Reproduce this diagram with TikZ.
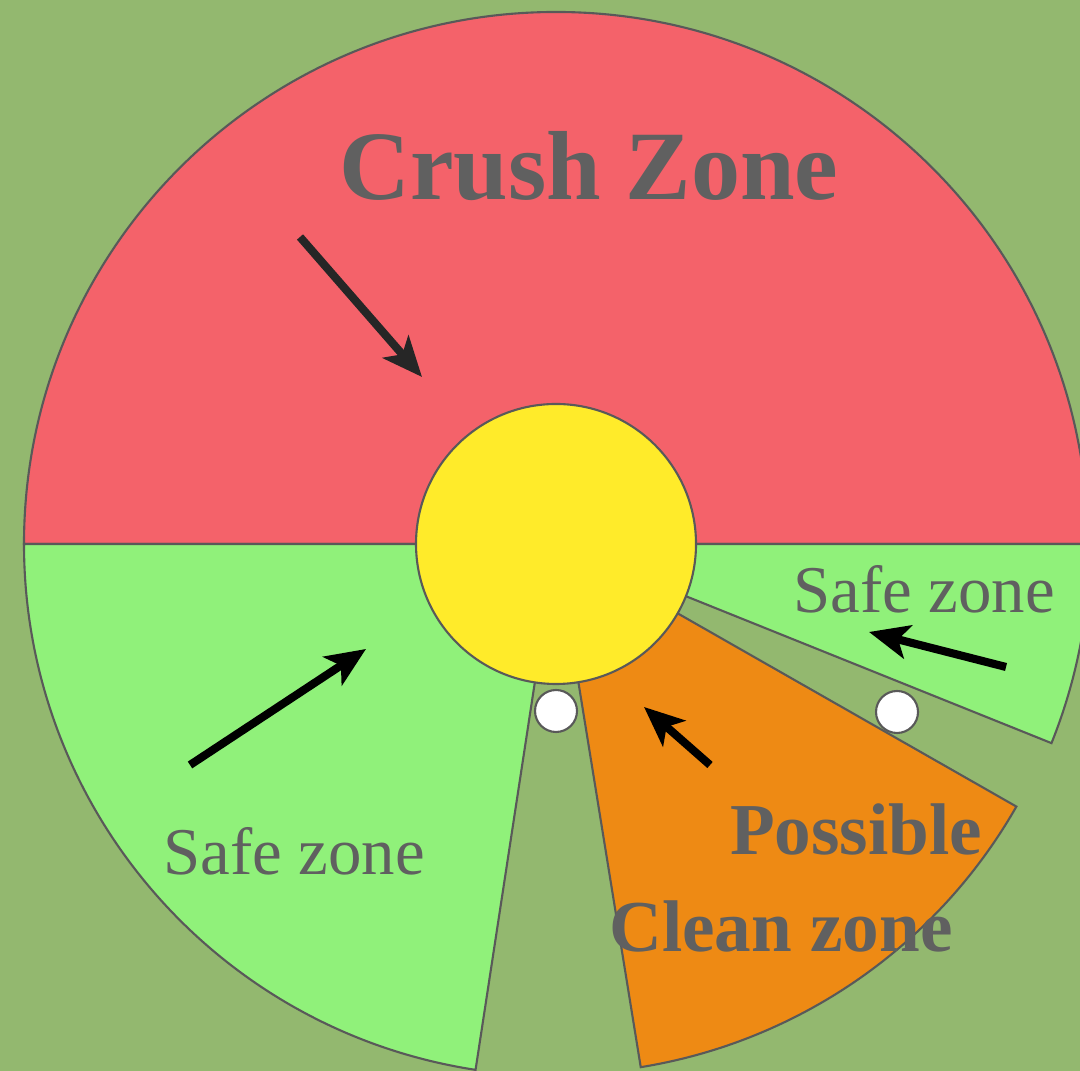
\documentclass[tikz,border=0pt]{standalone}
\usepackage{fontspec}
\setmainfont{Liberation Serif}
\usetikzlibrary{arrows.meta}
\definecolor{fieldgreen}{HTML}{93B86F}
\definecolor{crushred}{HTML}{F4626A}
\definecolor{safegreen}{HTML}{90F17A}
\definecolor{cleanorange}{HTML}{EE8A14}
\definecolor{hubyellow}{HTML}{FFEB2A}
\definecolor{labelgray}{HTML}{606060}

\begin{document}
\begin{tikzpicture}[
  x=0.01cm, y=0.01cm,
  zone/.style={draw=black!65, line width=0.6pt},
  pointer/.style={-{Stealth[length=0.4cm, width=0.34cm, inset=0.1cm]}, line width=2.3pt},
  lbl/.style={text=labelgray, anchor=base, inner sep=0pt}
]
  \fill[fieldgreen] (0,0) rectangle (1080,1071);
  \useasboundingbox (0,0) rectangle (1080,1071);
  \clip (0,0) rectangle (1080,1071);
  \coordinate (c) at (556,527);

  % zones
  \draw[zone, fill=crushred]    (c) -- ++(0:532) arc (0:180:532) -- cycle;
  \draw[zone, fill=safegreen]   (c) -- ++(180:532) arc (180:261.3:532) -- cycle;
  \draw[zone, fill=cleanorange] (c) -- ++(279.2:530) arc (279.2:330.3:530) -- cycle;
  \draw[zone, fill=safegreen]   (c) -- ++(338.1:534) arc (338.1:360:534) -- cycle;
  \draw[zone, fill=hubyellow]   (c) circle (140);
  \draw[zone, fill=white] (556,360) circle (21);
  \draw[zone, fill=white] (897,359) circle (21);

  % arrows
  \coordinate (t1) at (300,834);  \coordinate (h1) at (422,694);
  \coordinate (t2) at (190,306);  \coordinate (h2) at (366,422);
  \coordinate (t3) at (710,306);  \coordinate (h3) at (644,364);
  \coordinate (t4) at (1006,404); \coordinate (h4) at (869,439);
  \draw[pointer, black!85] (t1) -- (h1);
  \draw[pointer] (t2) -- (h2);
  \draw[pointer] (t3) -- (h3);
  \draw[pointer] (t4) -- (h4);

  % labels
  \node[lbl, font=\bfseries\fontsize{27.9}{30}\selectfont] (crush) at (589,871) {Crush Zone};
  \node[lbl, font=\fontsize{19}{21}\selectfont] (safeR) at (924,458) {Safe zone};
  \node[lbl, font=\fontsize{19}{21}\selectfont] (safeL) at (294,196) {Safe zone};
  \node[lbl, font=\bfseries\fontsize{20.8}{23}\selectfont] (possible) at (856,216) {Possible};
  \node[lbl, font=\bfseries\fontsize{20.8}{23}\selectfont] (clean) at (781,119) {Clean zone};
\end{tikzpicture}
\end{document}
